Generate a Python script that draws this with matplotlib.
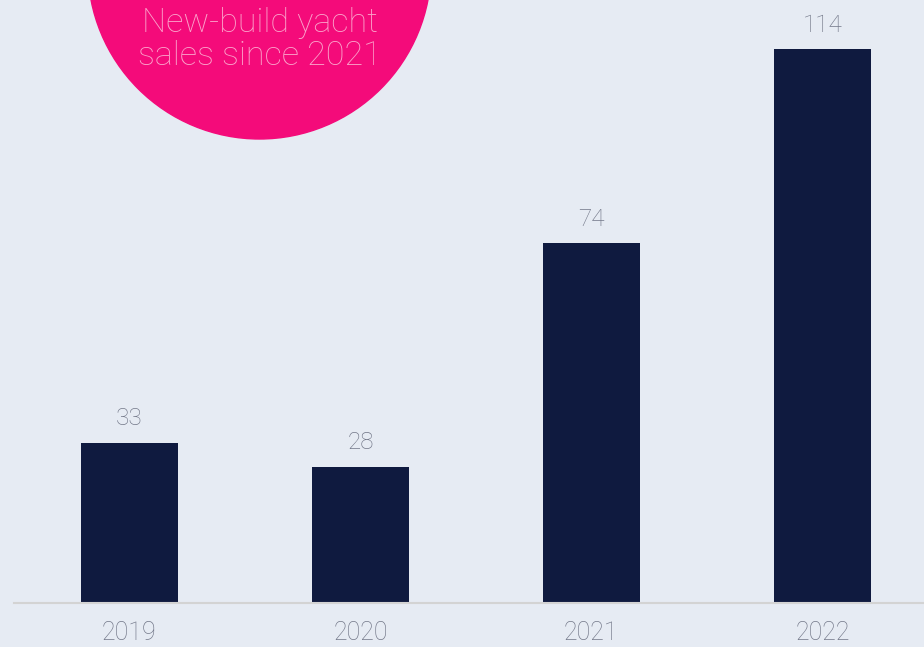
import matplotlib.pyplot as plt
from matplotlib.patches import Circle

years = ["2019", "2020", "2021", "2022"]
sales = [33, 28, 74, 114]
badge_lines = ["New-build yacht", "sales since 2021"]

BG = "#e6ebf3"
NAVY = "#0f1a3f"
PINK = "#f40b7a"
GREY = "#737889"

plt.rcParams["font.family"] = ["Roboto", "DejaVu Sans"]

fig = plt.figure(figsize=(9.24, 6.47), dpi=100, facecolor=BG)
ax = fig.add_axes([14 / 924, 44 / 647, 910 / 924, 603 / 647])
ax.set_facecolor(BG)

x = range(len(years))
ax.bar(x, sales, width=0.42, color=NAVY, zorder=2)
for xi, v in zip(x, sales):
    ax.annotate(str(v), (xi, v), xytext=(0, 9), textcoords="offset points",
                ha="center", va="bottom", fontsize=17.5, color=GREY,
                fontweight="light")

ax.set_xlim(-0.5, 3.44)
ax.set_ylim(0, 124.1)
ax.set_xticks(list(x))
ax.set_xticklabels(years, fontsize=18, color=GREY, fontweight="light")
ax.tick_params(axis="x", length=0, pad=13)
ax.set_yticks([])
for side in ["top", "right", "left"]:
    ax.spines[side].set_visible(False)
ax.spines["bottom"].set_color("#d3d3d3")
ax.spines["bottom"].set_linewidth(1.5)

# pink badge in the top-left, drawn in pixel coordinates
over = fig.add_axes([0, 0, 1, 1], zorder=3)
over.set_xlim(0, 924)
over.set_ylim(647, 0)
over.axis("off")
over.patch.set_alpha(0)
over.add_patch(Circle((259.5, -32.6), 171.6, color=PINK))
for i, line in enumerate(badge_lines):
    over.text(259.5, 23 + i * 33, line, ha="center", va="center",
              fontsize=24.5, color="#fba3cb", fontweight="light")

fig.savefig("out.png", dpi=100, facecolor=BG)
